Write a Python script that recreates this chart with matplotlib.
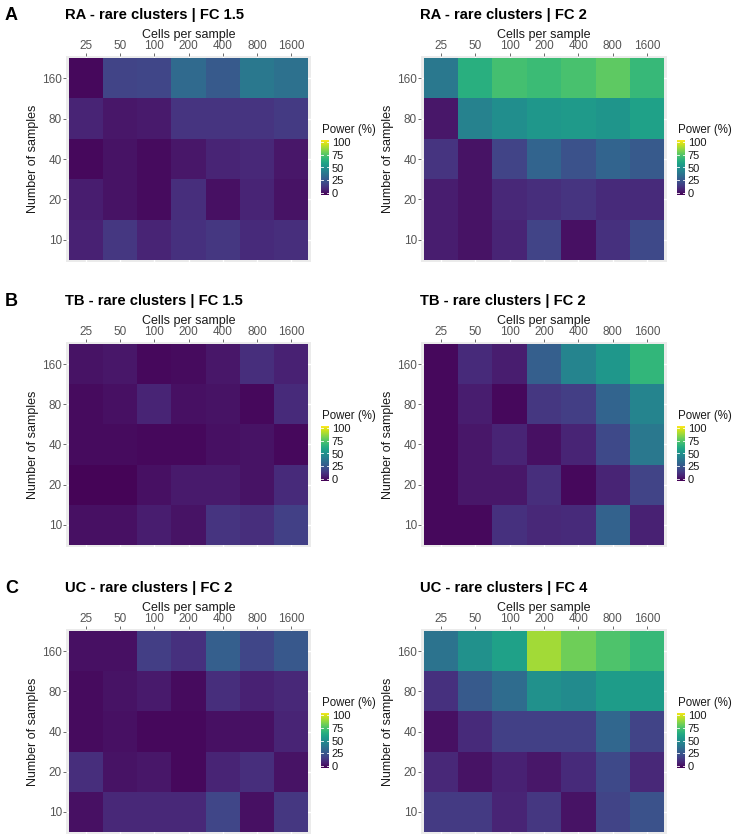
import numpy as np
import matplotlib
matplotlib.use("Agg")
import matplotlib.pyplot as plt

plt.rcParams['font.family'] = ['Liberation Sans', 'DejaVu Sans']

cells = ["25", "50", "100", "200", "400", "800", "1600"]
samples = ["10", "20", "40", "80", "160"]  # bottom to top

titles = ["RA - rare clusters | FC 1.5", "RA - rare clusters | FC 2",
          "TB - rare clusters | FC 1.5", "TB - rare clusters | FC 2",
          "UC - rare clusters | FC 2", "UC - rare clusters | FC 4"]
letters = ["A", "B", "C"]

# rows listed bottom (10) to top (160), columns 25..1600
ra_fc15 = [[9, 16, 10, 14, 16, 12, 13],
           [8, 5, 3, 13, 4, 10, 5],
           [2, 5, 3, 6, 10, 11, 6],
           [10, 6, 7, 15, 15, 15, 17],
           [2, 20, 21, 34, 28, 40, 37]]
ra_fc2 = [[8, 5, 10, 20, 4, 14, 22],
          [8, 5, 11, 13, 15, 12, 12],
          [15, 5, 20, 32, 25, 32, 28],
          [6, 44, 49, 53, 54, 52, 57],
          [40, 63, 70, 68, 71, 75, 67]]
tb_fc15 = [[4, 4, 8, 5, 15, 13, 19],
           [1, 1, 4, 7, 7, 5, 12],
           [3, 3, 2, 2, 4, 5, 2],
           [3, 4, 10, 4, 5, 2, 12],
           [5, 6, 2, 3, 6, 13, 9]]
tb_fc2 = [[2, 2, 14, 11, 12, 31, 9],
          [2, 6, 6, 13, 2, 10, 20],
          [2, 6, 10, 4, 10, 22, 40],
          [2, 8, 2, 16, 18, 32, 45],
          [2, 12, 8, 30, 45, 53, 66]]
uc_fc2 = [[4, 11, 11, 11, 21, 4, 16],
          [13, 5, 6, 2, 10, 13, 5],
          [3, 4, 2, 2, 4, 4, 10],
          [3, 5, 7, 3, 13, 9, 11],
          [4, 4, 18, 14, 30, 21, 27]]
uc_fc4 = [[17, 17, 10, 16, 5, 20, 25],
          [11, 5, 9, 6, 12, 22, 11],
          [4, 12, 19, 19, 19, 33, 20],
          [14, 28, 35, 50, 48, 55, 55],
          [38, 50, 57, 86, 78, 72, 67]]

data = [ra_fc15, ra_fc2, tb_fc15, tb_fc2, uc_fc2, uc_fc4]

W, H = 733, 838
fig = plt.figure(figsize=(W / 100, H / 100), dpi=100)


def rect(x0, y0, x1, y1):
    return [x0 / W, 1 - y1 / H, (x1 - x0) / W, (y1 - y0) / H]


col_x = [(66, 311), (421, 667)]
row_y = [(56, 262), (342, 547), (629, 834)]
cmap = plt.get_cmap('viridis')
tick_col = '#555555'

for i in range(6):
    r, c = divmod(i, 2)
    x0, x1 = col_x[c]
    y0, y1 = row_y[r]
    ax = fig.add_axes(rect(x0, y0, x1, y1))
    ax.set_facecolor('#ebebeb')
    arr = np.array(data[i], dtype=float)
    ax.pcolormesh(np.arange(len(cells) + 1) - 0.5, np.arange(len(samples) + 1) - 0.5,
                  arr, cmap=cmap, vmin=0, vmax=100, zorder=2)
    ax.set_xlim(-0.58, len(cells) - 0.42)
    ax.set_ylim(-0.55, len(samples) - 0.45)
    ax.set_xticks(range(len(cells)))
    ax.set_xticklabels(cells)
    ax.set_yticks(range(len(samples)))
    ax.set_yticklabels(samples)
    ax.xaxis.tick_top()
    ax.xaxis.set_label_position('top')
    ax.tick_params(axis='both', labelsize=8.5, labelcolor=tick_col, color='#555555',
                   length=2, width=0.6, pad=1)
    ax.grid(True, color='white', linewidth=1, zorder=0)
    ax.set_axisbelow(True)
    for s in ax.spines.values():
        s.set_visible(False)
    ax.set_xlabel("Cells per sample", fontsize=9, color='#1a1a1a', labelpad=1.5)
    ax.set_ylabel("Number of samples", fontsize=9, color='#1a1a1a', labelpad=2)
    # title
    fig.text((x0 - 1) / W, 1 - (y0 - 41) / H, titles[i], fontsize=10.6, fontweight='bold',
             ha='left', va='center', color='black')
    # colorbar
    cb_top = y0 + 84
    cb_bot = y0 + 139
    cx0 = x1 + 10
    cax = fig.add_axes(rect(cx0, cb_top, cx0 + 8, cb_bot))
    grad = np.linspace(0, 100, 256).reshape(-1, 1)
    cax.imshow(grad, aspect='auto', cmap=cmap, origin='lower',
               extent=[0, 1, -3, 103], vmin=0, vmax=100)
    cax.set_ylim(-3, 103)
    cax.set_xlim(0, 1)
    for s in cax.spines.values():
        s.set_visible(False)
    cax.set_xticks([])
    cax.yaxis.tick_right()
    cax.set_yticks([0, 25, 50, 75, 100])
    cax.tick_params(axis='y', length=0, labelsize=8, labelcolor='#1a1a1a', pad=2)
    for v in [0, 25, 50, 75, 100]:
        cax.plot([0, 0.2], [v, v], color='white', lw=0.6)
        cax.plot([0.8, 1], [v, v], color='white', lw=0.6)
    fig.text((cx0 + 1) / W, 1 - (cb_top - 10) / H, "Power (%)", fontsize=8.3,
             ha='left', va='center', color='#1a1a1a')

for r in range(3):
    fig.text(5 / W, 1 - (row_y[r][0] - 41) / H, letters[r], fontsize=13,
             fontweight='bold', ha='left', va='center')

fig.savefig("out.png", dpi=100)
